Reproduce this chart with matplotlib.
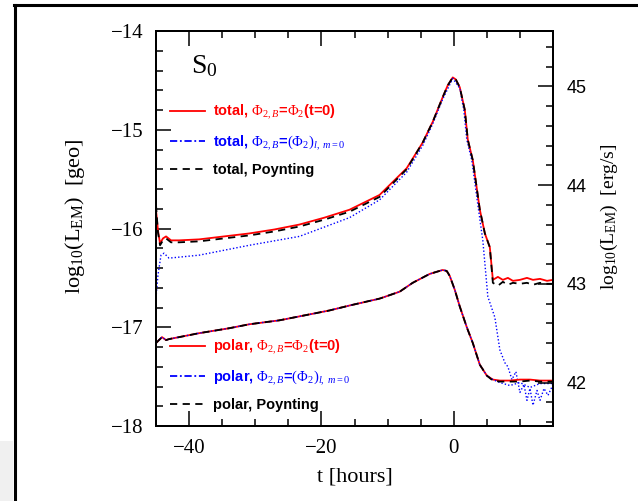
import matplotlib
matplotlib.use("Agg")
import matplotlib.pyplot as plt
from matplotlib.lines import Line2D
from matplotlib.patches import Rectangle
from matplotlib.ticker import MultipleLocator

plt.rcParams['mathtext.fontset'] = 'custom'
plt.rcParams['mathtext.rm'] = 'Liberation Serif'
plt.rcParams['mathtext.it'] = 'Liberation Serif:italic'
plt.rcParams['mathtext.bf'] = 'Liberation Serif:bold'

# offset between geometric units and erg/s (log10)
GEO_TO_CGS = 59.56

# total luminosity, Phi_2,B = Phi_2(t=0)  (red) and Poynting (black)
t_total = [-45.0, -44.70, -44.39, -43.94, -43.48, -42.73, -41.52, -38.48, -34.70,
           -30.91, -27.12, -23.33, -19.55, -15.76, -11.21, -7.12, -4.70, -3.18,
           -1.67, -0.91, -0.15, 0.30, 0.91, 1.67, 2.12, 2.88, 3.94, 4.70, 5.45,
           5.91, 6.67, 7.42, 8.18, 8.94, 10.0, 11.06, 11.97, 13.03, 14.09, 15.0]
total_red = [-15.81, -16.02, -16.15, -16.10, -16.08, -16.12, -16.12, -16.11, -16.08,
             -16.05, -16.01, -15.96, -15.89, -15.81, -15.66, -15.39, -15.13, -14.92,
             -14.67, -14.55, -14.47, -14.49, -14.57, -14.80, -15.10, -15.31, -15.81,
             -16.05, -16.19, -16.52, -16.49, -16.52, -16.50, -16.53, -16.52, -16.50,
             -16.52, -16.51, -16.53, -16.52]
total_black = [-15.76, -16.04, -16.17, -16.12, -16.10, -16.14, -16.14, -16.13, -16.10,
               -16.07, -16.03, -15.98, -15.91, -15.83, -15.68, -15.40, -15.13, -14.92,
               -14.67, -14.55, -14.47, -14.49, -14.57, -14.80, -15.10, -15.31, -15.81,
               -16.05, -16.19, -16.55, -16.58, -16.54, -16.57, -16.55, -16.56, -16.55,
               -16.57, -16.55, -16.56, -16.56]

# total luminosity, Phi_2,B = (Phi_2)_{l,m=0}  (blue)
t_total_blue = [-45.0, -44.70, -44.24, -43.79, -43.03, -38.48, -30.91, -23.33, -15.76,
                -11.21, -7.12, -4.70, -3.18, -1.67, -0.15, 0.91, 1.52, 1.97, 2.73,
                3.64, 4.39, 5.15, 6.21, 6.97, 7.73, 8.18, 8.79, 9.39, 10.0, 10.61,
                11.06, 11.52, 11.97, 12.58, 13.03, 13.64, 14.24, 15.0]
total_blue = [-16.70, -16.47, -16.27, -16.25, -16.30, -16.27, -16.17, -16.08, -15.89,
              -15.71, -15.43, -15.16, -14.94, -14.69, -14.48, -14.58, -14.80, -15.10,
              -15.31, -15.76, -16.12, -16.69, -16.90, -17.23, -17.36, -17.40, -17.53,
              -17.45, -17.66, -17.58, -17.74, -17.62, -17.79, -17.64, -17.74, -17.62,
              -17.69, -17.58]

# polar luminosity
t_polar = [-45.0, -44.55, -44.09, -43.48, -43.03, -38.48, -33.94, -30.91, -26.36,
           -23.33, -18.79, -15.76, -11.21, -8.18, -6.21, -3.64, -1.67, -1.06, -0.61,
           0.15, 0.91, 1.97, 2.88, 3.94, 5.0, 5.91, 6.97, 8.48, 10.0, 11.52, 13.03, 15.0]
polar_red = [-17.16, -17.13, -17.10, -17.13, -17.12, -17.06, -17.01, -16.97, -16.93,
             -16.89, -16.83, -16.78, -16.71, -16.64, -16.55, -16.46, -16.42, -16.43,
             -16.48, -16.62, -16.79, -17.00, -17.16, -17.38, -17.49, -17.53, -17.54,
             -17.54, -17.53, -17.53, -17.54, -17.54]
polar_black = [-17.16, -17.13, -17.10, -17.13, -17.12, -17.06, -17.01, -16.97, -16.93,
               -16.89, -16.83, -16.78, -16.71, -16.64, -16.55, -16.46, -16.42, -16.43,
               -16.48, -16.62, -16.79, -17.00, -17.16, -17.38, -17.49, -17.54, -17.55,
               -17.55, -17.55, -17.54, -17.55, -17.55]
polar_blue = [-17.16, -17.13, -17.10, -17.13, -17.12, -17.06, -17.01, -16.97, -16.93,
              -16.89, -16.83, -16.78, -16.71, -16.64, -16.55, -16.46, -16.42, -16.43,
              -16.48, -16.62, -16.79, -17.00, -17.16, -17.38, -17.49, -17.53, -17.56,
              -17.59, -17.56, -17.61, -17.57, -17.57]

labels_total = [r'total, $\Phi_{2,B}$=$\Phi_2$(t=0)',
                r'total, $\Phi_{2,B}$=$(\Phi_2)_{l,\ m=0}$',
                'total, Poynting']
labels_polar = [r'polar, $\Phi_{2,B}$=$\Phi_2$(t=0)',
                r'polar, $\Phi_{2,B}$=$(\Phi_2)_{l,\ m=0}$',
                'polar, Poynting']

fig = plt.figure(figsize=(6.38, 5.01), dpi=100)
ax = fig.add_axes([0.2445, 0.1497, 0.6223, 0.7884])

ax.plot(t_total, total_red, color='red', lw=1.3)
ax.plot(t_total_blue, total_blue, color='blue', lw=1.0, ls=(0, (1, 1.5)))
ax.plot(t_total, total_black, color='black', lw=1.3, ls=(0, (4, 3)))
ax.plot(t_polar, polar_red, color='red', lw=1.3)
ax.plot(t_polar, polar_blue, color='blue', lw=1.0, ls=(0, (1, 1.5)))
ax.plot(t_polar, polar_black, color='black', lw=1.3, ls=(0, (4, 3)))

ax.set_xlim(-45, 15)
ax.set_ylim(-18, -14)
ax.xaxis.set_major_locator(MultipleLocator(20))
ax.xaxis.set_minor_locator(MultipleLocator(5))
ax.yaxis.set_major_locator(MultipleLocator(1))
ax.yaxis.set_minor_locator(MultipleLocator(0.2))
ax.tick_params(which='both', direction='in', top=True, right=False, width=1.1)
ax.tick_params(which='major', length=10.5)
ax.tick_params(which='minor', length=5)
ax.tick_params(axis='y', labelsize=15, pad=9)
ax.tick_params(axis='x', labelsize=15, pad=9)
for lab in ax.get_xticklabels() + ax.get_yticklabels():
    lab.set_family('Liberation Serif')
for s in ax.spines.values():
    s.set_linewidth(1.4)

ax.set_xlabel('t [hours]', fontsize=16, family='Liberation Serif')
ax.xaxis.set_label_coords(0.5, -0.105)
ax.set_ylabel(r'log$_{10}$(L$_{\rm EM}$)  [geo]', fontsize=16, family='Liberation Serif')
ax.yaxis.set_label_coords(-0.175, 0.53)

ax2 = ax.twinx()
ax2.set_ylim(-18 + GEO_TO_CGS, -14 + GEO_TO_CGS)
ax2.yaxis.set_major_locator(MultipleLocator(1))
ax2.yaxis.set_minor_locator(MultipleLocator(0.2))
ax2.tick_params(which='both', direction='in', width=1.1)
ax2.tick_params(which='major', length=10.5, labelsize=13, pad=10)
ax2.tick_params(which='minor', length=5)
for lab in ax2.get_yticklabels():
    lab.set_family('Liberation Sans')
for s in ax2.spines.values():
    s.set_linewidth(1.4)
ax2.set_ylabel(r'log$_{10}$(L$_{\rm EM}$)  [erg/s]', fontsize=14, family='Liberation Serif')
ax2.yaxis.set_label_coords(1.115, 0.53)

ax.text(0.088, 0.894, r'S$_0$', transform=ax.transAxes, fontsize=20,
        family='Liberation Serif', va='baseline')

handles = [Line2D([], [], color='red', lw=1.3),
           Line2D([], [], color='blue', lw=1.3, ls=(0, (4, 1.5, 1, 1.5))),
           Line2D([], [], color='black', lw=1.3, ls=(0, (4, 3)))]
leg_kw = dict(loc='upper left', frameon=False, handlelength=2.4,
              handletextpad=0.55, labelspacing=0.78, borderpad=0, borderaxespad=0,
              labelcolor=['red', 'blue', 'black'],
              prop={'family': 'Liberation Sans', 'weight': 'bold', 'size': 10.5})
leg1 = ax.legend(handles, labels_total, bbox_to_anchor=(0.035, 0.818), **leg_kw)
ax.add_artist(leg1)
ax.legend(handles, labels_polar, bbox_to_anchor=(0.035, 0.224), **leg_kw)

# screenshot frame
fig.add_artist(Line2D([0.023, 0.023], [0, 0.99], transform=fig.transFigure,
                      color='black', lw=2.2))
fig.add_artist(Line2D([0.022, 1], [0.99, 0.99], transform=fig.transFigure,
                      color='black', lw=2.2))
fig.add_artist(Rectangle((0, 0), 0.021, 0.12, transform=fig.transFigure,
                         color='#f0f0f0', lw=0))

fig.savefig('out.png', dpi=100)
